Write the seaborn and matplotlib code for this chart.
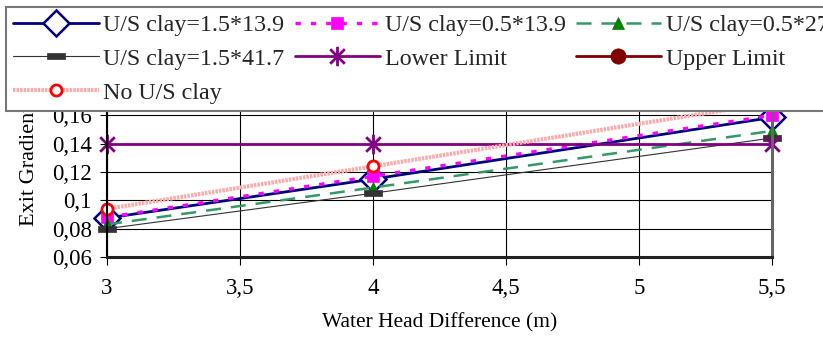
import matplotlib
matplotlib.use("Agg")
import matplotlib.pyplot as plt
import seaborn as sns
import numpy as np
import pandas as pd
from matplotlib.path import Path
from matplotlib.ticker import FuncFormatter, MultipleLocator

# ---- data ----
head = [3, 4, 5.5]
us_15_139 = [0.0875, 0.115, 0.1585]
us_05_139 = [0.088, 0.117, 0.160]
us_05_278 = [0.083, 0.109, 0.149]
us_15_417 = [0.080, 0.105, 0.144]
lower_limit = [0.14, 0.14, 0.14]
upper_limit = [0.17, 0.17, 0.17]
no_us_clay = [0.094, 0.124, 0.169]

labels = ["U/S clay=1.5*13.9", "U/S clay=0.5*13.9", "U/S clay=0.5*27.8",
          "U/S clay=1.5*41.7", "Lower Limit", "Upper Limit", "No U/S clay"]

sns.set_theme(style="white")
plt.rcParams['font.family'] = ['Liberation Serif', 'DejaVu Serif']

fig = plt.figure(figsize=(8.23, 3.38), dpi=100)
ax = fig.add_axes([107/823, 1 - 257/338, (772-107)/823, (257-87)/338])

star = Path([(0, -1), (0, 1), (-0.75, -0.75), (0.75, 0.75), (-0.75, 0.75), (0.75, -0.75)],
            [Path.MOVETO, Path.LINETO, Path.MOVETO, Path.LINETO, Path.MOVETO, Path.LINETO])
bar = Path([(-1, -0.3), (1, -0.3), (1, 0.3), (-1, 0.3), (-1, -0.3)],
           [Path.MOVETO, Path.LINETO, Path.LINETO, Path.LINETO, Path.CLOSEPOLY])

styles = [
    dict(color="#000080", lw=2, linestyle="-", marker="D", markersize=13,
         markerfacecolor="white", markeredgecolor="#000080", markeredgewidth=1.8),
    dict(color="#FF00FF", lw=2.4, linestyle=(0, (1.6, 3.0)), marker="s", markersize=8,
         markerfacecolor="#FF00FF", markeredgecolor="#FF00FF", markeredgewidth=0.5),
    dict(color="#339966", lw=1.8, linestyle=(0, (6, 4)), marker="^", markersize=9,
         markerfacecolor="#008000", markeredgecolor="#008000", markeredgewidth=0.5),
    dict(color="#333333", lw=0.8, linestyle="-", marker=bar, markersize=13,
         markerfacecolor="#333333", markeredgecolor="#333333", markeredgewidth=0.5),
    dict(color="#800080", lw=2, linestyle="-", marker=star, markersize=14,
         markerfacecolor="none", markeredgecolor="#800080", markeredgewidth=2),
    dict(color="#800000", lw=2, linestyle="-", marker="o", markersize=11,
         markerfacecolor="#800000", markeredgecolor="#800000", markeredgewidth=0.5),
    dict(color="#FFAAAA", lw=3, linestyle=(0, (0.6, 0.25)), marker="o", markersize=8,
         markerfacecolor="white", markeredgecolor="#FF0000", markeredgewidth=2),
]
series = [us_15_139, us_05_139, us_05_278, us_15_417, lower_limit, upper_limit, no_us_clay]

handles = []
for vals, lab, st in zip(series, labels, styles):
    df = pd.DataFrame({"x": head, "y": vals})
    sns.lineplot(data=df, x="x", y="y", ax=ax, label=lab, legend=False, clip_on=False, **st)
    handles.append(ax.get_lines()[-1])

ax.set_xlim(3, 5.5)
ax.set_ylim(0.06, 0.18)
ax.xaxis.set_major_locator(MultipleLocator(0.5))
ax.yaxis.set_major_locator(MultipleLocator(0.02))

def fmt(v, pos):
    return ("%g" % round(v, 3)).replace(".", ",")

ax.xaxis.set_major_formatter(FuncFormatter(fmt))
ax.yaxis.set_major_formatter(FuncFormatter(fmt))

ax.grid(True, color="black", lw=0.8)
ax.set_axisbelow(True)
ax.spines["top"].set_visible(False)
ax.spines["left"].set_color("black"); ax.spines["left"].set_linewidth(1.5)
ax.spines["bottom"].set_color("#222222"); ax.spines["bottom"].set_linewidth(2.2)
ax.spines["right"].set_color("#666666"); ax.spines["right"].set_linewidth(2.2)

ax.tick_params(axis="x", direction="out", length=6, width=0.8, color="black",
               labelsize=16.5, pad=9, bottom=True)
ax.tick_params(axis="y", direction="out", length=5, width=0.8, color="black",
               labelsize=16.5, pad=6, left=True)
for t in ax.get_xticklabels() + ax.get_yticklabels():
    t.set_color("black")

ax.set_xlabel("Water Head Difference (m)", fontsize=15.5, color="black", labelpad=10)
ax.set_ylabel("Exit Gradient", fontsize=16, color="black")
ax.yaxis.set_label_coords(-0.103, (257 - 166) / 170)

order = [0, 3, 6, 1, 4, 2, 5]
leg = fig.legend([handles[i] for i in order], [labels[i] for i in order],
                 ncol=3, loc="upper left", bbox_to_anchor=(6/823, 1 - 7/338),
                 fontsize=17.3, frameon=True, fancybox=False, handlelength=3.55,
                 handletextpad=0.2, columnspacing=0.42, labelspacing=0.5,
                 borderpad=0.3, borderaxespad=0)
leg.get_frame().set_edgecolor("#777777")
leg.get_frame().set_linewidth(1.5)
leg.get_frame().set_facecolor("white")
leg.get_frame().set_alpha(1)
leg.set_zorder(10)

fig.savefig("out.png", dpi=100, facecolor="white")
